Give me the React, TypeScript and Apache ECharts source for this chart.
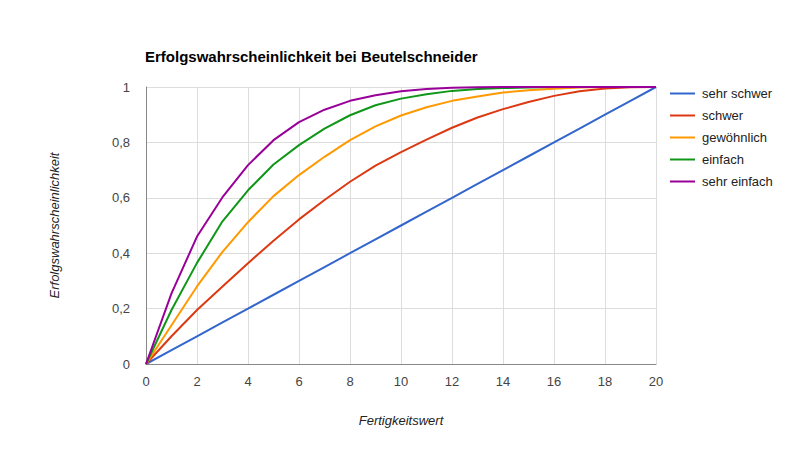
import React, { useEffect, useRef } from "react";
import * as echarts from "echarts";

const xValues = [0, 1, 2, 3, 4, 5, 6, 7, 8, 9, 10, 11, 12, 13, 14, 15, 16, 17, 18, 19, 20];
const seriesNames = ["sehr schwer", "schwer", "gewöhnlich", "einfach", "sehr einfach"];
const sehrSchwer = [0, 0.05, 0.1, 0.15, 0.2, 0.25, 0.3, 0.35, 0.4, 0.45, 0.5, 0.55, 0.6, 0.65, 0.7, 0.75, 0.8, 0.85, 0.9, 0.95, 1];
const schwer = [0, 0.1, 0.195, 0.28, 0.364, 0.445, 0.522, 0.592, 0.658, 0.716, 0.765, 0.81, 0.853, 0.89, 0.92, 0.946, 0.968, 0.985, 0.995, 0.999, 1];
const gewoehnlich = [0, 0.14, 0.28, 0.405, 0.512, 0.606, 0.682, 0.748, 0.808, 0.858, 0.897, 0.927, 0.95, 0.966, 0.98, 0.988, 0.994, 0.998, 1, 1, 1];
const einfach = [0, 0.195, 0.365, 0.515, 0.627, 0.72, 0.79, 0.85, 0.898, 0.934, 0.958, 0.974, 0.986, 0.993, 0.996, 0.998, 1, 1, 1, 1, 1];
const sehrEinfach = [0, 0.255, 0.46, 0.602, 0.718, 0.808, 0.873, 0.918, 0.95, 0.97, 0.985, 0.993, 0.997, 0.999, 1, 1, 1, 1, 1, 1, 1];
const colors = ["#3366cc", "#dc3912", "#ff9900", "#109618", "#990099"];

const FONT = "'Liberation Sans', Arial, sans-serif";

export default function App() {
  const ref = useRef<HTMLDivElement>(null);
  useEffect(() => {
    if (!ref.current) return;
    const chart = echarts.init(ref.current, undefined, { renderer: "svg" });
    const all = [sehrSchwer, schwer, gewoehnlich, einfach, sehrEinfach];
    chart.setOption({
      animation: false,
      backgroundColor: "#ffffff",
      color: colors,
      title: {
        text: "Erfolgswahrscheinlichkeit bei Beutelschneider",
        left: 140,
        top: 44,
        textStyle: { fontFamily: FONT, fontSize: 15, fontWeight: "bold", color: "#000" },
      },
      legend: {
        orient: "vertical",
        left: 670,
        top: 86,
        padding: 0,
        itemWidth: 25,
        itemHeight: 2,
        itemGap: 7,
        icon: "rect",
        textStyle: { fontFamily: FONT, fontSize: 13, color: "#222", padding: [0, 0, 0, 2], lineHeight: 15 },
        data: seriesNames,
      },
      grid: { left: 146, right: 144, top: 87, bottom: 87, containLabel: false },
      xAxis: {
        type: "value",
        min: 0,
        max: 20,
        interval: 2,
        name: "Fertigkeitswert",
        nameLocation: "middle",
        nameGap: 50,
        nameTextStyle: { fontFamily: FONT, fontSize: 13, fontStyle: "italic", color: "#222" },
        axisLine: { show: true, lineStyle: { color: "#888", width: 1 } },
        axisTick: { show: false },
        axisLabel: { fontFamily: FONT, fontSize: 13, color: "#444", margin: 11 },
        splitLine: { show: true, lineStyle: { color: "#ddd", width: 1 } },
      },
      yAxis: {
        type: "value",
        min: 0,
        max: 1,
        interval: 0.2,
        name: "Erfolgswahrscheinlichkeit",
        nameLocation: "middle",
        nameGap: 85,
        nameRotate: 90,
        nameTextStyle: { fontFamily: FONT, fontSize: 13, fontStyle: "italic", color: "#222" },
        axisLine: { show: true, lineStyle: { color: "#888", width: 1 } },
        axisTick: { show: false },
        axisLabel: {
          fontFamily: FONT,
          fontSize: 13,
          color: "#444",
          margin: 16,
          formatter: (v: number) => String(Math.round(v * 10) / 10).replace(".", ","),
        },
        splitLine: { show: true, lineStyle: { color: "#ddd", width: 1 } },
      },
      series: seriesNames.map((name, i) => ({
        name,
        type: "line",
        showSymbol: false,
        symbol: "none",
        lineStyle: { width: 2, color: colors[i] },
        itemStyle: { color: colors[i] },
        data: xValues.map((x, j) => [x, all[i][j]]),
      })),
    });
    return () => chart.dispose();
  }, []);
  return <div ref={ref} style={{ width: 800, height: 451, position: "absolute", left: 0, top: 0 }} />;
}
